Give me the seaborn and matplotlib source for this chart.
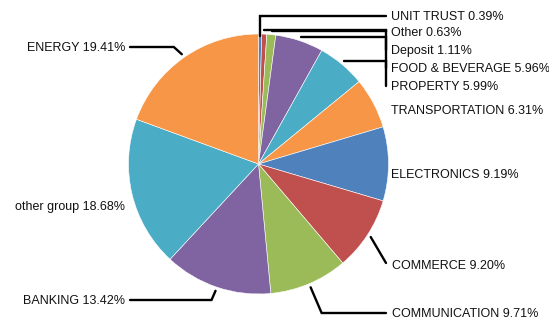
import numpy as np
import matplotlib
matplotlib.use("Agg")
import matplotlib.pyplot as plt
import seaborn as sns

sns.set_style("white")
plt.rcParams['font.family'] = ['Liberation Sans', 'DejaVu Sans']

# ---- data ----
labels = ["UNIT TRUST", "Other", "Deposit", "FOOD & BEVERAGE", "PROPERTY",
          "TRANSPORTATION", "ELECTRONICS", "COMMERCE", "COMMUNICATION",
          "BANKING", "other group", "ENERGY"]
values = [0.39, 0.63, 1.11, 5.96, 5.99, 6.31, 9.19, 9.20, 9.71, 13.42, 18.68, 19.41]

# ---- style ----
base = ["#4F81BD", "#C0504D", "#9BBB59", "#8064A2", "#4BACC6", "#F79646"]
colors = [base[i % len(base)] for i in range(len(values))]

W, H = 549, 320
fig = plt.figure(figsize=(W / 100, H / 100), dpi=100)
ax = fig.add_axes([0, 0, 1, 1])

cx, cy, R = 258.5, H - 164, 130
wedges, _ = ax.pie(values, colors=colors, startangle=90, counterclock=False,
                   center=(cx, cy), radius=R, frame=True,
                   wedgeprops=dict(edgecolor="white", linewidth=0.4))
ax.set_xlim(0, W)
ax.set_ylim(0, H)
ax.set_aspect("equal")
ax.axis("off")

def py(y):
    return H - y

# label layout: (text x, text y in pixels from top, ha, leader kind)
layout = [
    (391, 16, "left", "up"),
    (391, 32, "left", "elbow"),
    (391, 50, "left", "elbow"),
    (391, 68, "left", "elbow"),
    (391, 86, "left", "elbow"),
    (391, 110, "left", None),
    (391, 174, "left", None),
    (392, 265, "left", "direct"),
    (392, 313, "left", "bend"),
    (125, 300, "right", "bend"),
    (125, 206, "right", None),
    (125, 47, "right", "bend"),
]

lw = 1.7
for w, lab, val, (tx, ty, ha, kind) in zip(wedges, labels, values, layout):
    ang = np.deg2rad((w.theta1 + w.theta2) / 2)
    ax0 = cx + 1.03 * R * np.cos(ang)
    ay0 = cy + 1.03 * R * np.sin(ang)
    ty_d = py(ty)
    if kind == "up":
        ax.plot([ax0, ax0, tx - 5], [cy + R - 2, ty_d, ty_d], color="black", lw=lw,
                solid_joinstyle="miter", clip_on=False)
    elif kind == "elbow":
        ax.plot([ax0, 386, 386], [ay0, ay0, ty_d], color="black", lw=lw,
                solid_joinstyle="miter", clip_on=False)
    elif kind == "direct":
        ax.plot([ax0, tx - 6], [ay0, ty_d + 2], color="black", lw=lw, clip_on=False)
    elif kind == "bend":
        if ha == "left":
            bx = ax0 + 11
            ax.plot([ax0, bx, tx - 6], [ay0, ty_d, ty_d], color="black", lw=lw,
                    solid_joinstyle="miter", clip_on=False)
        else:
            bx = ax0 - 4 if ay0 < cy else ax0 - 8
            ax.plot([ax0, bx, tx + 5], [ay0, ty_d, ty_d], color="black", lw=lw,
                    solid_joinstyle="miter", clip_on=False)
    ax.text(tx, ty_d - 1, f"{lab} {val:.2f}%", ha=ha, va="center", fontsize=9.0,
            color="#111111")

fig.savefig("out.png", dpi=100)
